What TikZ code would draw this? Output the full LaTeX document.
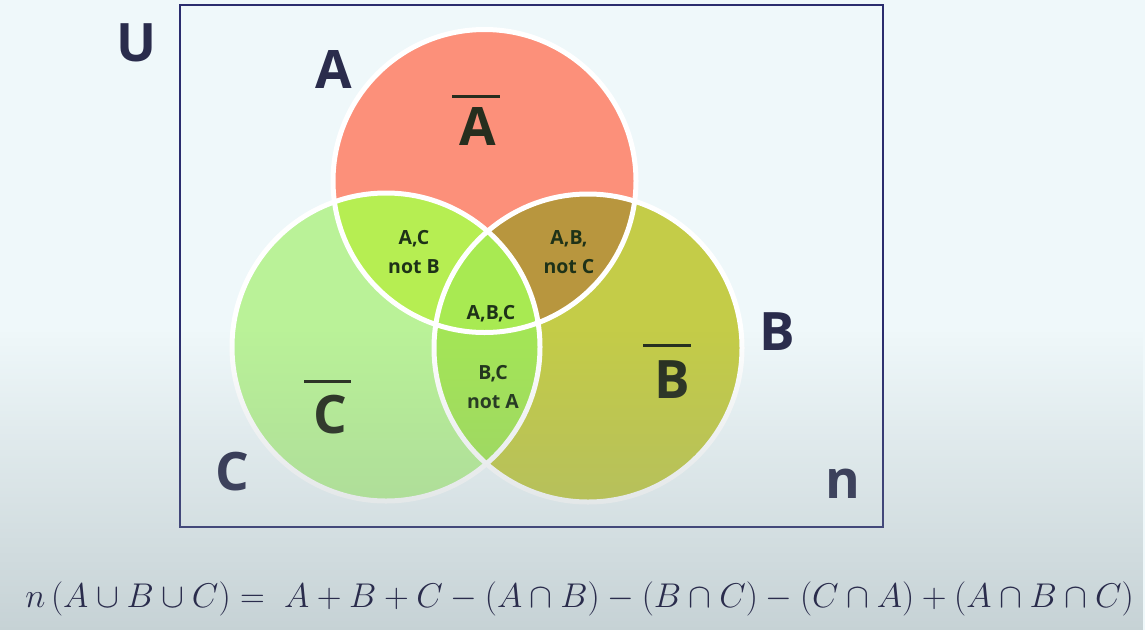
\documentclass[tikz,border=0pt]{standalone}
\usepackage{fontspec}
\newfontfamily\labfont{Open Sans}
\usetikzlibrary{fadings}
\definecolor{bgtop}{HTML}{EFF8FA}
\definecolor{tint}{HTML}{8A9A9F}
\definecolor{framecol}{HTML}{2B2D6E}
\definecolor{ink}{HTML}{2A2C4C}
\definecolor{darkink}{HTML}{262E1E}
\definecolor{smallink}{HTML}{1E3218}
\definecolor{Acol}{HTML}{FC907A}
\definecolor{Bcol}{HTML}{C4CC48}
\definecolor{Ccol}{HTML}{BAF298}
\definecolor{ACcol}{HTML}{B6EE52}
\definecolor{ABcol}{HTML}{B8963E}
\definecolor{BCcol}{HTML}{A4E656}
\definecolor{ABCcol}{HTML}{A8EA52}
\tikzfading[name=botfade, top color=transparent!100, bottom color=transparent!0]
\begin{document}
\begin{tikzpicture}[x=1pt,y=-1pt,
  big/.style={font=\labfont\bfseries\fontsize{53}{60}\selectfont, text=ink, inner sep=0pt, anchor=base},
  bigbar/.style={font=\labfont\bfseries\fontsize{53}{60}\selectfont, text=darkink, inner sep=0pt, anchor=base},
  overbar/.style={line width=3pt, draw=darkink},
  small/.style={font=\labfont\bfseries\fontsize{19.5}{29}\selectfont, text=smallink, align=center, inner sep=0pt},
  rim/.style={draw=white, line width=5pt}]
\useasboundingbox (0,0) rectangle (1145,630);
\fill[bgtop] (0,0) rectangle (1145,630);
% frame
\draw[framecol, line width=2.5pt] (180,5) rectangle (883,527);
% circles
\coordinate (cA) at (484.5,181);
\coordinate (cB) at (588,348);
\coordinate (cC) at (386,347);
\def\rA{151.5pt}
\def\rB{154pt}
\def\rC{154pt}
\fill[Acol] (cA) circle[radius=\rA];
\fill[Ccol] (cC) circle[radius=\rC];
\fill[Bcol] (cB) circle[radius=\rB];
\begin{scope}
  \clip (cA) circle[radius=\rA];
  \fill[ACcol] (cC) circle[radius=\rC];
  \fill[ABcol] (cB) circle[radius=\rB];
\end{scope}
\begin{scope}
  \clip (cB) circle[radius=\rB];
  \fill[BCcol] (cC) circle[radius=\rC];
\end{scope}
\begin{scope}
  \clip (cA) circle[radius=\rA];
  \clip (cB) circle[radius=\rB];
  \fill[ABCcol] (cC) circle[radius=\rC];
\end{scope}
\draw[rim] (cA) circle[radius=\rA];
\draw[rim] (cB) circle[radius=\rB];
\draw[rim] (cC) circle[radius=\rC];
% region labels
\node[small] (lac) at (414,252) {A,C\\not B};
\node[small] (lab) at (569,252) {A,B,\\not C};
\node[small] (labc) at (491,314) {A,B,C};
\node[small] (lbc) at (493,387) {B,C\\not A};
% complement labels
\node[bigbar] (abar) at (478,145) {A};
\draw[overbar] (452,96) -- (500,96);
\node[bigbar] (bbar) at (672,398) {B};
\draw[overbar] (643,345) -- (691,345);
\node[bigbar] (cbar) at (330,433) {C};
\draw[overbar] (304,381) -- (351,381);
% set labels
\node[big] (U) at (137,61) {U};
\node[big] (A) at (334,88) {A};
\node[big] (B) at (777,350) {B};
\node[big] (C) at (232,490) {C};
\node[big] (n) at (843,498) {n};
% bottom tint
\fill[tint, fill opacity=0.4, path fading=botfade] (0,330) rectangle (1145,630);
% formula
\node[anchor=base west, inner sep=0pt, text=ink, font=\Huge, scale=1.38] (formula) at (25,607)
  {$n\,(A\cup B\cup C) =\; A+B+C-(A\cap B)-(B\cap C)-(C\cap A)+(A\cap B\cap C)$};
\end{tikzpicture}
\end{document}
